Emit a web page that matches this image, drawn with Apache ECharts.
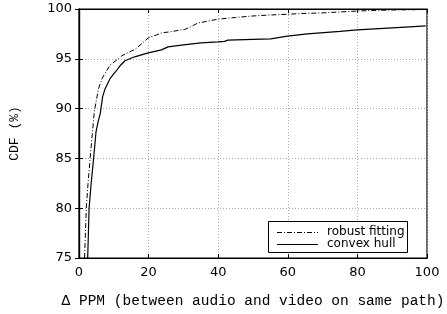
<!DOCTYPE html>
<html>
<head>
<meta charset="utf-8">
<script src="https://cdn.jsdelivr.net/npm/echarts@6/dist/echarts.min.js"></script>
<style>html,body{margin:0;padding:0;background:#fff;}#c{width:447px;height:314px;}</style>
</head>
<body>
<div id="c"></div>
<script>
var seriesNames = ['robust fitting', 'convex hull'];
var xTicks = [0, 20, 40, 60, 80, 100];
var yTicks = [75, 80, 85, 90, 95, 100];
var robustX = [1.6, 2.1, 2.6, 3.2, 4.4, 5.6, 6.6, 7.4, 9.0, 11.3, 12.3, 14.0, 16.1, 18.0, 19.9, 22.3, 23.7, 26.0, 29.4, 30.4, 32.0, 34.2, 35.1, 39.9, 45.0, 50.0, 55.0, 59.9, 64.0, 69.4, 75.0, 79.9, 85.0, 90.0, 100.0];
var robustY = [75.0, 80.0, 82.5, 85.0, 89.7, 92.0, 93.0, 93.5, 94.4, 95.0, 95.3, 95.6, 95.95, 96.5, 97.1, 97.4, 97.6, 97.7, 97.9, 97.95, 98.2, 98.6, 98.65, 98.98, 99.15, 99.3, 99.4, 99.47, 99.55, 99.6, 99.7, 99.8, 99.85, 99.9, 99.95];
var hullX = [2.5, 2.9, 3.5, 4.2, 4.9, 5.5, 6.1, 6.8, 7.5, 8.9, 10.5, 11.8, 13.2, 13.7, 16.0, 19.9, 23.7, 25.6, 30.0, 35.1, 39.9, 41.8, 42.8, 50.0, 55.1, 59.9, 65.6, 69.4, 75.0, 79.9, 85.0, 90.0, 95.0, 99.6];
var hullY = [75.0, 80.0, 82.5, 85.0, 87.7, 88.7, 89.5, 91.2, 92.0, 93.0, 93.7, 94.3, 94.8, 94.85, 95.2, 95.6, 95.9, 96.2, 96.4, 96.6, 96.7, 96.75, 96.87, 96.95, 97.0, 97.27, 97.5, 97.6, 97.75, 97.9, 98.0, 98.1, 98.2, 98.3];

function pairs(xs, ys) { return xs.map(function (x, i) { return [x, ys[i]]; }); }

var tickFont = { fontFamily: 'DejaVu Sans', fontSize: 13, color: '#000' };
var mono = { fontFamily: 'Liberation Mono', fontSize: 14.5, color: '#000' };
var splitDotted = { show: true, lineStyle: { color: '#aaa', type: [1, 2], width: 1 } };
var robustDash = [5, 2, 1, 2];

var chart = echarts.init(document.getElementById('c'), null, { renderer: 'canvas' });
chart.setOption({
  animation: false,
  backgroundColor: '#fff',
  grid: { left: 77, right: 20, top: 9, bottom: 52, show: true, borderColor: '#000', borderWidth: 1.2, backgroundColor: 'transparent' },
  graphic: [
    { type: 'rect', z: 100, shape: { x: 268.5, y: 221.5, width: 139, height: 31 }, style: { fill: '#fff', stroke: '#000', lineWidth: 1 } },
    { type: 'line', z: 101, shape: { x1: 277, y1: 232.5, x2: 318, y2: 232.5 }, style: { stroke: '#000', lineWidth: 1, lineDash: robustDash } },
    { type: 'line', z: 101, shape: { x1: 277, y1: 244.5, x2: 318, y2: 244.5 }, style: { stroke: '#000', lineWidth: 1.2 } },
    { type: 'text', z: 101, x: 327, y: 232, style: { text: seriesNames[0], font: '12px "DejaVu Sans"', fill: '#000', verticalAlign: 'middle' } },
    { type: 'text', z: 101, x: 327, y: 244, style: { text: seriesNames[1], font: '12px "DejaVu Sans"', fill: '#000', verticalAlign: 'middle' } }
  ],
  xAxis: [{
    type: 'value', min: xTicks[0], max: xTicks[xTicks.length - 1], interval: 20,
    name: 'Δ PPM (between audio and video on same path)', nameLocation: 'middle', nameGap: 36,
    nameTextStyle: mono,
    axisLine: { show: true, lineStyle: { color: '#000', width: 1.2 } },
    axisTick: { show: true, inside: true, length: 4, lineStyle: { color: '#000' } },
    axisLabel: Object.assign({ margin: 8 }, tickFont),
    splitLine: splitDotted
  }, {
    type: 'value', position: 'top', min: xTicks[0], max: xTicks[xTicks.length - 1], interval: 20,
    axisLine: { show: true, lineStyle: { color: '#000', width: 1.2 } },
    axisTick: { show: true, inside: true, length: 4, lineStyle: { color: '#000' } },
    axisLabel: { show: false }, splitLine: { show: false }
  }],
  yAxis: [{
    type: 'value', min: yTicks[0], max: yTicks[yTicks.length - 1], interval: 5,
    name: 'CDF (%)', nameLocation: 'middle', nameGap: 58, nameRotate: 90,
    nameTextStyle: Object.assign({}, mono, { fontSize: 13 }),
    axisLine: { show: true, lineStyle: { color: '#000', width: 1.2 } },
    axisTick: { show: true, inside: true, length: 4, lineStyle: { color: '#000' } },
    axisLabel: Object.assign({ margin: 7 }, tickFont),
    splitLine: splitDotted
  }, {
    type: 'value', position: 'right', min: yTicks[0], max: yTicks[yTicks.length - 1], interval: 5,
    axisLine: { show: true, lineStyle: { color: '#000', width: 1.2 } },
    axisTick: { show: true, inside: true, length: 4, lineStyle: { color: '#000' } },
    axisLabel: { show: false }, splitLine: { show: false }
  }],
  series: [{
    name: seriesNames[0], type: 'line', symbol: 'none', showSymbol: false,
    data: pairs(robustX, robustY), xAxisIndex: 0, yAxisIndex: 0,
    lineStyle: { color: '#000', width: 1, type: robustDash },
    itemStyle: { color: '#000' }
  }, {
    name: seriesNames[1], type: 'line', symbol: 'none', showSymbol: false,
    data: pairs(hullX, hullY), xAxisIndex: 0, yAxisIndex: 0,
    lineStyle: { color: '#000', width: 1.2, type: 'solid' },
    itemStyle: { color: '#000' }
  }]
});
</script>
</body>
</html>
